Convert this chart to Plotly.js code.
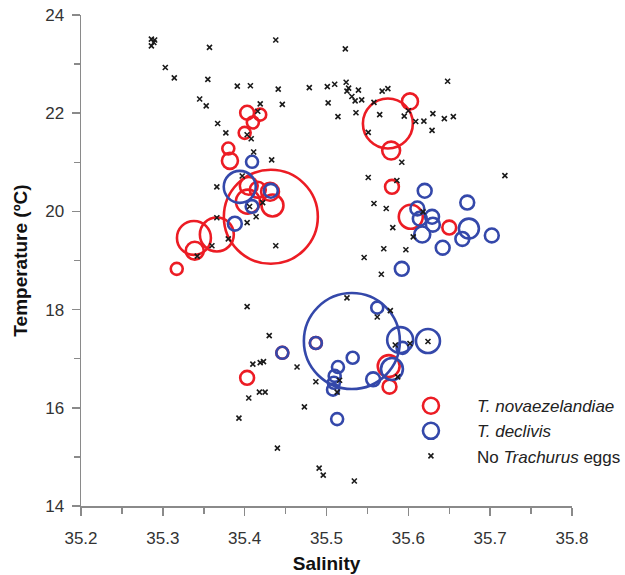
<!DOCTYPE html>
<html>
<head>
<meta charset="utf-8">
<script src="https://cdn.plot.ly/plotly-3.0.1.min.js"></script>
<style>html,body{margin:0;padding:0;background:#fff;}#chart{width:625px;height:575px;}</style>
</head>
<body>
<div id="chart"></div>
<script>
// T. novaezelandiae egg stations
var novaeSalinity = [35.403,35.419,35.410,35.400,35.380,35.382,35.405,35.416,35.431,35.404,35.434,35.432,35.338,35.366,35.339,35.317,35.575,35.602,35.579,35.580,35.603,35.650,35.403,35.446,35.576,35.577,35.487];
var novaeTemp     = [22.01,21.97,21.81,21.60,21.28,21.03,20.52,20.44,20.40,20.20,20.12,19.89,19.46,19.53,19.20,18.83,21.79,22.24,21.24,20.50,19.89,19.67,16.61,17.12,16.85,16.43,17.32];
var novaeEggs     = [12,9,9,9,9,16,20,16,20,36,30,552,72,72,20,9,156,16,20,12,36,12,12,9,30,12,9];

// T. declivis egg stations
var declivisSalinity = [35.409,35.394,35.432,35.409,35.388,35.620,35.672,35.611,35.629,35.630,35.614,35.617,35.642,35.674,35.666,35.702,35.592,35.531,35.562,35.487,35.532,35.514,35.510,35.509,35.508,35.557,35.590,35.593,35.624,35.580,35.513,35.446];
var declivisTemp     = [21.01,20.50,20.42,20.10,19.75,20.42,20.18,20.06,19.89,19.73,19.85,19.53,19.26,19.65,19.44,19.51,18.83,17.36,18.04,17.32,17.02,16.83,16.65,16.51,16.37,16.58,17.38,17.22,17.36,16.79,15.77,17.12];
var declivisEggs     = [9,64,12,10,12,12,12,12,12,12,12,16,12,25,12,12,12,576,9,9,9,9,9,9,9,12,42,9,36,30,9,9];

// Stations with no Trachurus eggs
var noneSalinity = [35.286,35.290,35.286,35.289,35.357,35.438,35.303,35.314,35.355,35.391,35.407,35.441,35.479,35.345,35.353,35.446,35.419,35.416,35.367,35.377,35.403,35.408,35.411,35.433,35.366,35.397,35.406,35.422,35.366,35.403,35.414,35.380,35.360,35.342,35.438,
  35.523,35.501,35.510,35.524,35.527,35.525,35.539,35.531,35.535,35.543,35.568,35.575,35.648,35.502,35.514,35.536,35.558,35.565,35.551,35.595,35.600,35.609,35.619,35.630,35.644,35.655,35.629,35.592,35.551,35.586,35.718,35.558,35.573,35.618,35.581,35.606,35.570,35.597,35.546,35.567,
  35.403,35.430,35.410,35.419,35.423,35.464,35.487,35.405,35.418,35.425,35.393,35.473,35.440,35.491,35.496,35.534,35.525,35.562,35.578,35.584,35.602,35.624,35.587,35.516,35.513];
var noneTemp = [23.51,23.49,23.37,23.44,23.34,23.49,22.93,22.72,22.69,22.55,22.56,22.49,22.52,22.29,22.15,22.18,22.19,22.04,21.79,21.60,21.56,21.48,21.21,21.05,20.50,20.72,20.10,20.18,19.87,19.77,19.89,19.44,19.30,19.09,19.30,
  23.31,22.54,22.59,22.63,22.51,22.45,22.47,22.34,22.25,22.27,22.45,22.50,22.65,22.21,21.93,22.01,22.22,21.97,21.61,21.94,22.05,21.83,21.84,21.99,21.89,21.93,21.65,21.00,20.69,20.63,20.73,20.16,20.06,19.99,19.67,19.48,19.24,19.22,19.06,18.72,
  18.06,17.47,16.89,16.92,16.94,16.83,16.53,16.20,16.32,16.32,15.79,16.02,15.18,14.77,14.63,14.51,18.24,17.85,17.98,17.28,17.31,17.35,16.63,16.56,16.32];

var legendNames = ['<i>T. novaezelandiae</i>', '<i>T. declivis</i>', 'No <i>Trachurus</i> eggs'];

function diam(v){ return 4*Math.sqrt(v); }

var RED = 'rgb(236,28,36)';
var BLUE = 'rgb(52,72,170)';

var traces = [
  {x: novaeSalinity, y: novaeTemp, type:'scatter', mode:'markers', name: legendNames[0],
   marker:{symbol:'circle-open', color:RED, opacity:1, size: novaeEggs.map(diam), line:{width:2.6, color:RED}}},
  {x: declivisSalinity, y: declivisTemp, type:'scatter', mode:'markers', name: legendNames[1],
   marker:{symbol:'circle-open', color:BLUE, opacity:1, size: declivisEggs.map(diam), line:{width:2.6, color:BLUE}}},
  {x: noneSalinity, y: noneTemp, type:'scatter', mode:'markers', name: legendNames[2],
   marker:{symbol:'x-thin', color:'#1a1a1a', opacity:1, size:5, line:{width:1.6, color:'#1a1a1a'}}}
];

var axisCommon = {
  showgrid:false, zeroline:false, showline:true, linecolor:'#8a8a8a', linewidth:1.5,
  ticks:'outside', ticklen:8, tickwidth:1.5, tickcolor:'#8a8a8a',
  tickfont:{family:'Liberation Sans, Arial, sans-serif', size:17, color:'#333'}
};

var layout = {
  width:625, height:575,
  margin:{l:81, r:53, t:15, b:69, autoexpand:false},
  paper_bgcolor:'#fff', plot_bgcolor:'#fff',
  font:{family:'Liberation Sans, Arial, sans-serif', color:'#222'},
  xaxis: Object.assign({}, axisCommon, {
    range:[35.2,35.8], tick0:35.2, dtick:0.1, tickformat:'.1f', ticklabelstandoff:8,
    minor:{dtick:0.05, ticks:'outside', ticklen:6, tickwidth:1.5, tickcolor:'#8a8a8a', showgrid:false},
    title:{text:'Salinity', font:{size:19, weight:'bold', color:'#111'}, standoff:10}
  }),
  yaxis: Object.assign({}, axisCommon, {
    range:[14,24], tick0:14, dtick:2, ticklabelstandoff:4,
    minor:{dtick:1, ticks:'outside', ticklen:6, tickwidth:1.5, tickcolor:'#8a8a8a', showgrid:false},
    title:{text:'Temperature (ºC)', font:{size:19, weight:'bold', color:'#111'}, standoff:12}
  }),
  showlegend:true,
  legend:{x:0.619, y:0.24, xanchor:'left', yanchor:'top', bgcolor:'rgba(0,0,0,0)',
          font:{size:17, color:'#222'}, itemwidth:82, tracegroupgap:0}
};

Plotly.newPlot('chart', traces, layout, {staticPlot:true, displayModeBar:false});
</script>
</body>
</html>
